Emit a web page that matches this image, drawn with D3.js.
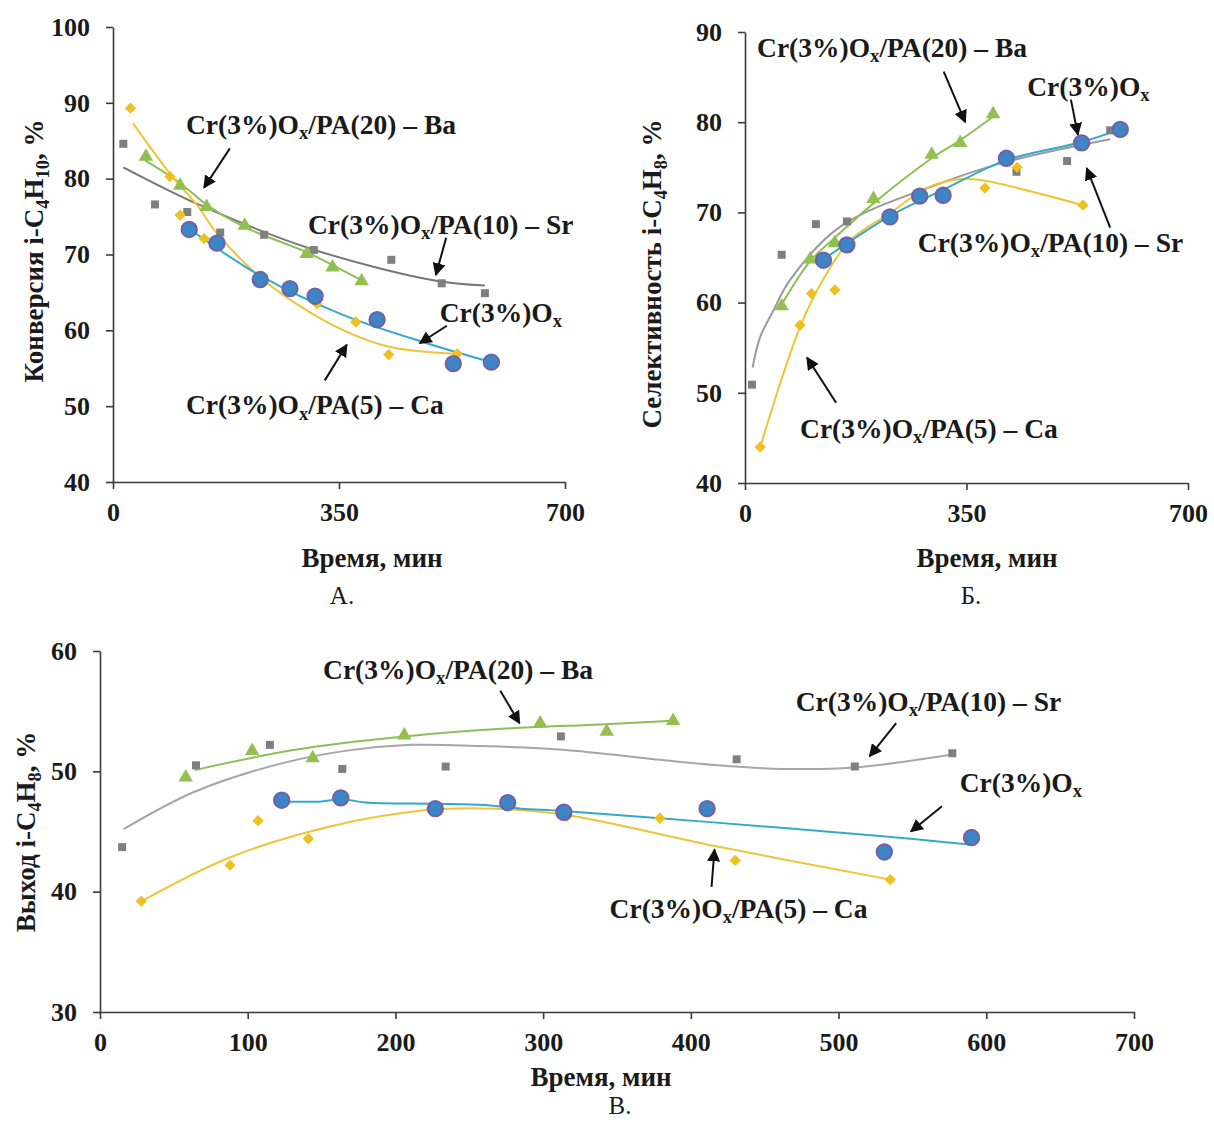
<!DOCTYPE html>
<html>
<head>
<meta charset="utf-8">
<script src="https://d3js.org/d3.v7.min.js"></script>
<style>
  body { margin: 0; background: #fff; }
  text { font-family: "Liberation Serif", "Times New Roman", serif; fill: #1a1a1a; }
  .axis path, .axis line { stroke: #3a3a3a; stroke-width: 1.6; }
  .axis text { font-size: 26px; font-weight: bold; }
  .title { font-size: 27px; font-weight: bold; }
  .note { font-size: 27.5px; font-weight: bold; }
  .panel { font-size: 25px; }
</style>
</head>
<body>
<script>
// ---- data: [time, value] ----
// A. conversion of i-C4H10
var convCa = [[27,89.3],[88,80.3],[104,75.2],[141,72.1],[228,66.8],[316,63.5],[376,61.1],[427,56.8],[533,56.9]];
var convOx = [[118,73.3],[161,71.5],[228,66.7],[274,65.5],[313,64.5],[409,61.4],[527,55.6],[586,55.8]];
var convBa = [[51,82.9],[104,79.1],[145,76.3],[204,73.8],[300,70.1],[340,68.3],[385,66.5]];
var convSr = [[16,84.6],[65,76.6],[115,75.6],[166,72.9],[234,72.6],[311,70.6],[431,69.3],[509,66.2],[576,64.9]];
// trend lines as drawn in the picture
var convCaFit = [[31,87.3],[88,80.7],[132,76.3],[160,72.9],[228,67.0],[284,63.5],[357,60.0],[429,57.8],[532,56.9]];
var convOxFit = [[118,73.4],[228,67.2],[357,62.0],[486,58.3],[590,55.7]];
var convBaFit = [[50,82.4],[104,79.4],[146,76.5],[204,73.6],[300,70.3],[340,68.6],[385,66.6]];
var convSrFit = [[16,81.5],[135,76.5],[305,70.8],[496,66.6],[576,65.9]];

// Б. selectivity to i-C4H8
var selCa = [[430,75.0],[24,44.0],[87,57.5],[105,61.0],[142,61.4],[229,69.7],[276,72.0],[379,72.7],[534,70.8]];
var selOx = [[124,64.7],[161,66.4],[229,69.5],[276,71.8],[313,71.9],[413,76.0],[532,77.7],[593,79.2]];
var selBa = [[58,59.6],[103,64.8],[142,66.6],[203,71.5],[295,76.4],[340,77.7],[392,80.9]];
var selSr = [[11,50.9],[58,65.3],[112,68.7],[161,69.0],[429,74.5],[509,75.7],[577,79.1]];
var selCaFit = [[24,44.0],[87,57.3],[123,62.5],[166,66.9],[229,69.9],[287,72.7],[340,73.7],[379,73.5],[534,70.8]];
var selOxFit = [[124,64.8],[229,69.6],[313,72.5],[413,75.8],[532,77.8],[593,79.2]];
var selBaFit = [[58,59.8],[103,64.6],[142,67.2],[203,71.0],[295,76.0],[340,78.0],[392,80.6]];
var selSrFit = [[12,52.8],[24,56.2],[44,59.0],[71,62.5],[150,68.4],[308,73.2],[413,75.6],[577,78.1]];

// В. yield of i-C4H8
var yldCa = [[28,39.2],[88,42.2],[107,45.9],[141,44.4],[227,46.8],[316,46.25],[379,46.1],[430,42.6],[535,41.0]];
var yldOx = [[123,47.6],[163,47.8],[227,46.9],[276,47.4],[314,46.6],[411,46.9],[531,43.3],[590,44.5]];
var yldBa = [[58,49.5],[103,51.7],[144,51.1],[206,53.0],[298,54.0],[343,53.3],[388,54.2]];
var yldSr = [[15,43.7],[65,50.5],[115,52.2],[164,50.2],[234,50.4],[312,52.9],[431,51.0],[511,50.4],[577,51.5]];
var yldCaFit = [[28,39.2],[87,42.8],[155,45.4],[223,46.8],[268,46.9],[315,46.4],[416,43.8],[535,41.0]];
var yldOxFit = [[123,47.5],[150,47.5],[163,47.7],[180,47.4],[227,47.3],[260,47.2],[285,46.9],[314,46.7],[411,45.8],[530,44.6],[590,43.9]];
var yldBaFit = [[64,50.1],[132,51.8],[206,52.9],[281,53.6],[339,53.9],[388,54.2]];
var yldSrFit = [[16,45.2],[64,48.3],[121,50.6],[166,51.7],[211,52.2],[257,52.1],[313,51.8],[384,50.9],[430,50.4],[463,50.2],[509,50.3],[577,51.4]];

var xTicksTop = [0, 350, 700];
var xTicksBottom = [0, 100, 200, 300, 400, 500, 600, 700];
var convTicks = [40, 50, 60, 70, 80, 90, 100];
var selTicks = [40, 50, 60, 70, 80, 90];
var yldTicks = [30, 40, 50, 60];

var nameBa = ["Cr(3%)O", "x", "/PA(20) – Ba"];
var nameSr = ["Cr(3%)O", "x", "/PA(10) – Sr"];
var nameCa = ["Cr(3%)O", "x", "/PA(5) – Ca"];
var nameOx = ["Cr(3%)O", "x", ""];

var colors = { Ca: "#f2c01e", Ox: "#3c86c6", Ba: "#92c050", Sr: "#7f7f7f" };
var fitColors = { Ca: "#f0c437", Ox: "#35a9c9", Ba: "#8cbf56", Sr: "#8c8c8c" };

var panels = [
  {
    left: 113, right: 565, top: 27, bottom: 482, xTicks: xTicksTop, yTicks: convTicks,
    yTitle: ["Конверсия i-C", "4", "H", "10", ", %"], yTitleX: 34, yTitleY: 251,
    xTitleX: 372, xTitleY: 567, caption: "А.", capX: 342, capY: 604, srColor: "#777",
    series: { Sr: [convSr, convSrFit], Ba: [convBa, convBaFit], Ca: [convCa, convCaFit], Ox: [convOx, convOxFit] },
    notes: [
      { name: nameBa, t: [113, 87.2], a: [[181, 84.0], [141, 78.8]] },
      { name: nameSr, t: [302, 74.0], a: [[516, 72.2], [500, 67.3]] },
      { name: nameOx, t: [506, 62.4], a: [[517, 60.6], [475, 58.3]] },
      { name: nameCa, t: [113, 50.2], a: [[328, 53.4], [362, 58.1]] }
    ]
  },
  {
    left: 745, right: 1188, top: 32, bottom: 483, xTicks: xTicksTop, yTicks: selTicks,
    yTitle: ["Селективность i-C", "4", "H", "8", ", %"], yTitleX: 652, yTitleY: 274,
    xTitleX: 987, xTitleY: 567, caption: "Б.", capX: 971, capY: 604, srColor: "#9a9a9a",
    series: { Sr: [selSr, selSrFit], Ba: [selBa, selBaFit], Ca: [selCa, selCaFit], Ox: [selOx, selOxFit] },
    notes: [
      { name: nameBa, t: [19, 88.3], a: [[314, 85.6], [348, 80.0]] },
      { name: nameOx, t: [446, 84.0], a: [[515, 82.5], [526, 78.6]] },
      { name: nameSr, t: [273, 66.7], a: [[577, 68.3], [540, 74.9]] },
      { name: nameCa, t: [87, 46.1], a: [[144, 48.9], [98, 53.9]] }
    ]
  },
  {
    left: 100, right: 1134, top: 651, bottom: 1012, xTicks: xTicksBottom, yTicks: yldTicks,
    yTitle: ["Выход i-C", "4", "H", "8", ", %"], yTitleX: 26, yTitleY: 832,
    xTitleX: 601, xTitleY: 1086, caption: "В.", capX: 620, capY: 1114, srColor: "#a6a6a6",
    series: { Sr: [yldSr, yldSrFit], Ba: [yldBa, yldBaFit], Ca: [yldCa, yldCaFit], Ox: [yldOx, yldOxFit] },
    notes: [
      { name: nameBa, t: [151, 58.5], a: [[271, 56.7], [284, 54.0]] },
      { name: nameSr, t: [471, 55.8], a: [[539, 54.0], [521, 51.25]] },
      { name: nameOx, t: [582, 49.1], a: [[570, 47.1], [549, 45.0]] },
      { name: nameCa, t: [345, 38.6], a: [[414, 40.4], [416, 43.5]] }
    ]
  }
];

var svg = d3.select("body").append("svg")
  .attr("width", 1214)
  .attr("height", 1124);

svg.append("rect").attr("width", 1214).attr("height", 1124).attr("fill", "#fff");

svg.append("defs").append("marker")
  .attr("id", "head")
  .attr("viewBox", "0 0 10 10")
  .attr("refX", 9).attr("refY", 5)
  .attr("markerWidth", 6.5).attr("markerHeight", 6.5)
  .attr("orient", "auto")
  .append("path")
  .attr("d", "M0,0 L10,5 L0,10 z")
  .attr("fill", "#111");

// Ca markers are squares turned 45 degrees (Excel style diamonds)
var shapes = { Ca: d3.symbolSquare, Ox: d3.symbolCircle, Ba: d3.symbolTriangle, Sr: d3.symbolSquare };
var sizes = { Ca: 64, Ox: 185, Ba: 90, Sr: 64 };

function subText(sel, parts) {
  // parts alternate normal / subscript
  parts.forEach(function(p, i) {
    if (!p) return;
    var sub = i % 2 == 1;
    sel.append("tspan")
      .attr("dy", sub ? "0.28em" : (i > 0 ? "-0.19em" : null))
      .style("font-size", sub ? "0.68em" : null)
      .text(p);
  });
}

panels.forEach(function(p) {
  var x = d3.scaleLinear().domain([0, 700]).range([p.left, p.right]);
  var y = d3.scaleLinear().domain([p.yTicks[0], p.yTicks[p.yTicks.length - 1]]).range([p.bottom, p.top]);

  svg.append("g")
    .attr("class", "axis")
    .attr("transform", "translate(0," + p.bottom + ")")
    .call(d3.axisBottom(x).tickValues(p.xTicks).tickSize(7).tickSizeOuter(0).tickPadding(14));

  svg.append("g")
    .attr("class", "axis")
    .attr("transform", "translate(" + p.left + ",0)")
    .call(d3.axisLeft(y).tickValues(p.yTicks).tickSize(7).tickSizeOuter(0).tickPadding(16));

  var line = d3.line()
    .x(function(d) { return x(d[0]); })
    .y(function(d) { return y(d[1]); })
    .curve(d3.curveCatmullRom.alpha(0.5));

  ["Sr", "Ba", "Ca", "Ox"].forEach(function(k) {
    svg.append("path")
      .datum(p.series[k][1])
      .attr("d", line)
      .attr("fill", "none")
      .attr("stroke", k == "Sr" ? p.srColor : fitColors[k])
      .attr("stroke-width", 2);
  });

  ["Sr", "Ba", "Ca", "Ox"].forEach(function(k) {
    svg.append("g").selectAll("path")
      .data(p.series[k][0])
      .enter()
      .append("path")
      .attr("transform", function(d) {
        return "translate(" + x(d[0]) + "," + y(d[1]) + ")" + (k == "Ca" ? " rotate(45)" : "");
      })
      .attr("d", d3.symbol().type(shapes[k]).size(sizes[k]))
      .attr("fill", colors[k])
      .attr("stroke", k == "Ox" ? "#7160a8" : "none")
      .attr("stroke-width", 2);
  });

  // notes with arrows
  p.notes.forEach(function(n) {
    var t = svg.append("text")
      .attr("class", "note")
      .attr("x", x(n.t[0]))
      .attr("y", y(n.t[1]))
      .attr("dy", "0.35em");
    subText(t, n.name);
    svg.append("line")
      .attr("x1", x(n.a[0][0])).attr("y1", y(n.a[0][1]))
      .attr("x2", x(n.a[1][0])).attr("y2", y(n.a[1][1]))
      .attr("stroke", "#111")
      .attr("stroke-width", 2)
      .attr("marker-end", "url(#head)");
  });

  // axis titles
  var yt = svg.append("text")
    .attr("class", "title")
    .attr("text-anchor", "middle")
    .attr("transform", "translate(" + p.yTitleX + "," + p.yTitleY + ") rotate(-90)")
    .attr("dy", "0.35em");
  subText(yt, p.yTitle);

  svg.append("text")
    .attr("class", "title")
    .attr("text-anchor", "middle")
    .attr("x", p.xTitleX)
    .attr("y", p.xTitleY)
    .text("Время, мин");

  svg.append("text")
    .attr("class", "panel")
    .attr("text-anchor", "middle")
    .attr("x", p.capX)
    .attr("y", p.capY)
    .text(p.caption);
});
</script>
</body>
</html>
